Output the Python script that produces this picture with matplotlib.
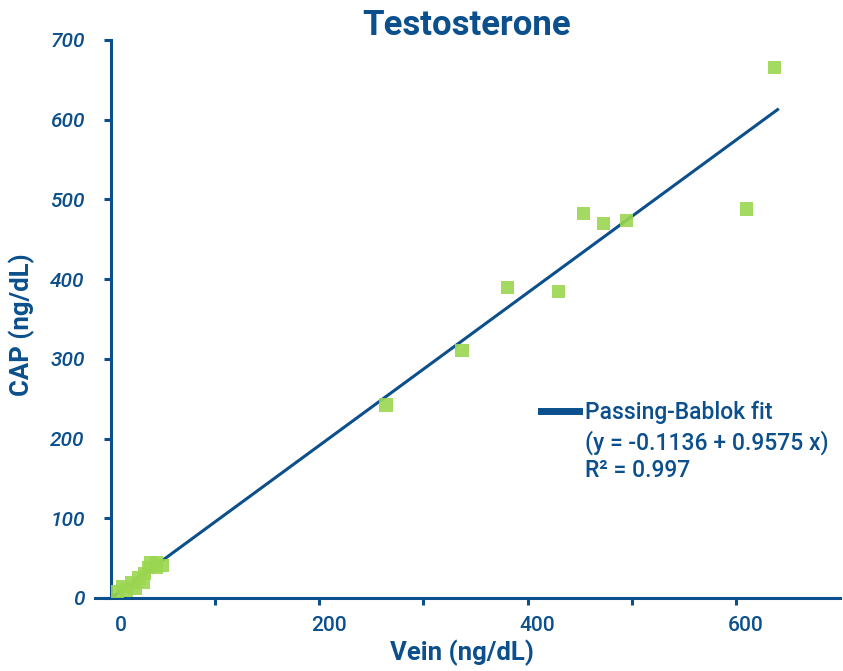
import numpy as np
import matplotlib.pyplot as plt
import matplotlib.transforms as mtransforms
from matplotlib.lines import Line2D

# datos (ng/dL)
vein = [6, 11, 15, 20, 23, 26, 31, 32, 36, 38, 44, 44, 49,
        264, 337, 381, 430, 454, 473, 495, 610, 637]
cap = [8, 14, 10, 19, 12, 25, 20, 31, 38, 44, 45, 38, 41,
       242, 310, 389, 385, 482, 470, 474, 488, 666]

intercept = -0.1136
slope = 0.9575
fit_x = [0, 640]

xticks = [0, 100, 200, 300, 400, 500, 600]
xlabels = ["0", "", "200", "", "400", "", "600"]
yticks = [0, 100, 200, 300, 400, 500, 600, 700]

azul = "#0b4f8c"
verde = "#9bd651"

plt.rcParams['font.family'] = ['Roboto', 'DejaVu Sans']

fig = plt.figure(figsize=(8.43, 6.71), dpi=100)
ax = fig.add_axes([0.1132, 0.1088, 0.8833, 0.8316])

fx = np.array(fit_x)
ax.plot(fx, intercept + slope * fx, color=azul, lw=2.2, zorder=2)
ax.scatter(vein, cap, marker="s", s=90, color=verde, alpha=0.9,
           edgecolors="none", zorder=3)

ax.set_xlim(-15, 700)
ax.set_ylim(0, 700)

for s in ["top", "right"]:
    ax.spines[s].set_visible(False)
ax.spines["left"].set_position(("data", 0))
for s in ["left", "bottom"]:
    ax.spines[s].set_color(azul)
    ax.spines[s].set_linewidth(2.2)

ax.set_xticks(xticks)
ax.set_xticklabels(xlabels)
ax.set_yticks(yticks)
ax.tick_params(axis="both", colors=azul, width=2.2, length=5, labelsize=15)
ax.tick_params(axis="y", pad=14)
ax.tick_params(axis="x", pad=8)
ax.xaxis.get_major_ticks()[0].tick1line.set_visible(False)
for lb in ax.get_yticklabels():
    lb.set_fontstyle("italic")
    lb.set_fontweight("medium")
# etiquetas x un poco corridas a la derecha como en el original
desp = mtransforms.ScaledTranslation(10 / 100, 0, fig.dpi_scale_trans)
for lb in ax.get_xticklabels():
    lb.set_fontweight("medium")
    lb.set_transform(lb.get_transform() + desp)

fig.text(0.554, 0.962, "Testosterone", ha="center", va="center",
         fontsize=25, fontweight="bold", color=azul)
fig.text(0.026, 0.516, "CAP (ng/dL)", ha="center", va="center", rotation=90,
         fontsize=18.5, fontweight="bold", color=azul)
fig.text(0.548, 0.027, "Vein (ng/dL)", ha="center", va="center",
         fontsize=18.5, fontweight="bold", color=azul)

h = Line2D([], [], color=azul, lw=5)
leg = ax.legend([h], ["Passing-Bablok fit"], loc="center left",
                bbox_to_anchor=(0.598, 0.332), frameon=False, fontsize=16.5,
                handlelength=1.65, handletextpad=0.3, borderpad=0, borderaxespad=0)
for t in leg.get_texts():
    t.set_color(azul)
    t.set_fontweight("medium")

fig.text(0.694, 0.341, "(y = %.4f + %.4f x)" % (intercept, slope), ha="left",
         va="center", fontsize=16.5, color=azul, fontweight="medium")
fig.text(0.694, 0.299, "R² = 0.997", ha="left", va="center",
         fontsize=16.5, color=azul, fontweight="medium")

plt.savefig("out.png", dpi=100)
